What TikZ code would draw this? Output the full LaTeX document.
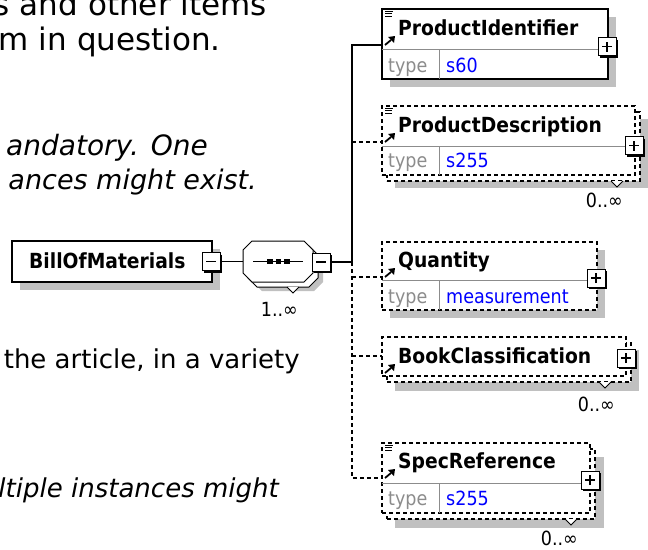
\documentclass[tikz,border=0pt]{standalone}
\usepackage{fontspec}
\setmainfont{DejaVu Sans}
\newfontfamily\xsfont{DejaVu Sans}[FakeStretch=0.9]
\definecolor{shadowgrey}{RGB}{192,192,192}
\definecolor{divgrey}{RGB}{140,140,140}
\definecolor{typeblue}{RGB}{0,0,255}
\tikzset{
  pagetext/.style={font=\fontsize{#1}{32}\selectfont, anchor=base east, inner sep=0},
  pageital/.style={font=\fontsize{#1}{32}\selectfont\itshape, anchor=base east, inner sep=0},
  shadowfill/.style={fill=shadowgrey, draw=none},
  elbox/.style={draw=black, line width=1.3pt, fill=white, inner sep=0, outer sep=0, anchor=north west},
  optbox/.style={elbox, dash pattern=on 4pt off 3pt},
  elname/.style={font=\xsfont\fontsize{20.8}{24}\selectfont\bfseries, anchor=base west, inner sep=0},
  typekey/.style={font=\xsfont\fontsize{19.5}{22}\selectfont, text=divgrey, anchor=base west, inner sep=0},
  typeval/.style={font=\xsfont\fontsize{19.5}{22}\selectfont, text=typeblue, anchor=base west, inner sep=0},
  occ/.style={font=\xsfont\fontsize{19.5}{22}\selectfont, anchor=base east, inner sep=0},
  divline/.style={draw=divgrey, line width=1pt},
  conn/.style={draw=black, line width=1.3pt},
  optconn/.style={conn, dash pattern=on 4pt off 3pt},
  pmbox/.style={draw=black, line width=1pt, fill=white, minimum size=18pt, inner sep=0, outer sep=0},
}
\newcommand\xsexp[4]{%
  \node[pmbox] (#1) at (#2,#3) {};
  \draw[line width=2.2pt] ([xshift=1.1pt,yshift=-2pt]#1.north east) -- ([xshift=1.1pt,yshift=-1.1pt]#1.south east) -- ([xshift=2pt,yshift=-1.1pt]#1.south west);
  \draw[line width=1.2pt] ([xshift=-5pt]#1.center) -- ([xshift=5pt]#1.center);
  \ifnum#4=1 \draw[line width=1.2pt] ([yshift=-5pt]#1.center) -- ([yshift=5pt]#1.center);\fi
}
\newcommand\xsdoc[2]{\draw[line width=1pt] (#1,#2) -- ++(8,0) (#1,#2+2.5) -- ++(7,0) (#1,#2+5) -- ++(7,0);}
\newcommand\xsref[2]{\draw[line width=1.8pt] (#1,#2) -- ++(6,-5); \fill (#1+10,#2-9) -- (#1+3,#2-8) -- (#1+9,#2-2) -- cycle;}
\newcommand\xsnotch[2]{\draw[line width=1pt, fill=white] (#1-6,#2) -- (#1,#2+6) -- (#1+6,#2);}
\begin{document}
\begin{tikzpicture}[x=1pt,y=-1pt]
\useasboundingbox (0,0) rectangle (648,549);
\fill[white] (0,0) rectangle (648,549);

% background page text
\node[pagetext=31] (t1) at (267,15) {s and other items};
\node[pagetext=31] (t2) at (221,50) {m in question.};
\node[pageital=28] (t3) at (208,155) {andatory. One};
\node[pageital=27] (t4) at (257,189) {ances might exist.};
\node[pagetext=26] (t5) at (300,368) {the article, in a variety};
\node[pageital=26] (t6) at (279,497) {ltiple instances might};

% BillOfMaterials
\fill[shadowfill] (20,249) rectangle (220,290);
\node[elbox, line width=1.1pt, minimum width=200pt, minimum height=41pt] (bom) at (12,241) {};
\node[elname] (bomname) at (29,268) {BillOfMaterials};

% sequence compositor
\fill[shadowfill] (262,250) -- (314,250) -- (323,259) -- (323,282) -- (314,291) -- (262,291) -- (253,282) -- (253,259) -- cycle;
\draw[line width=1pt, fill=white] (257,246) -- (309,246) -- (318,255) -- (318,278) -- (309,287) -- (257,287) -- (248,278) -- (248,255) -- cycle;
\xsnotch{293}{287}
\draw[line width=1pt, fill=white] (252,241) -- (304,241) -- (313,250) -- (313,273) -- (304,282) -- (252,282) -- (243,273) -- (243,250) -- cycle;
\coordinate (seqw) at (243,261.5);
\draw[line width=1.2pt] (253,261.5) -- (303,261.5);
\foreach \sx in {270,278.5,287} \fill (\sx-2.6,259) rectangle (\sx+2.6,264);
\node[occ] (seqocc) at (298,316) {1..∞};

% expanders
\xsexp{bomx}{211}{261.5}{0}
\xsexp{seqx}{321}{262}{0}
\draw[conn] (bomx.east) -- (seqw);
\coordinate (trunk) at (352,262);
\draw[conn] (seqx.east) -- (trunk);

% ProductIdentifier
\fill[shadowfill] (390,17) rectangle (616,87);
\node[elbox, minimum width=226pt, minimum height=70pt] (pi) at (382,9) {};
\draw[divline] (382,49) -- (608,49) (439,49) -- (439,79);
\node[elname] (piname) at (398,35) {ProductIdentifier};
\node[typekey] (pitk) at (388,72) {type};
\node[typeval] (pitv) at (446,72) {s60};
\xsdoc{385}{11}
\xsref{385}{45}
\xsexp{pix}{607}{46.5}{1}
\coordinate (piin) at (382,45);

% ProductDescription
\fill[shadowfill] (395,119) rectangle (648,188);
\node[optbox, minimum width=253pt, minimum height=69pt] (pdback) at (387,112) {};
\xsnotch{617}{181}
\node[optbox, minimum width=253pt, minimum height=69pt] (pd) at (382,106) {};
\draw[divline] (382,146) -- (635,146) (439,146) -- (439,175);
\node[elname] (pdname) at (398,132) {ProductDescription};
\node[typekey] (pdtk) at (388,167) {type};
\node[typeval] (pdtv) at (446,167) {s255};
\xsdoc{385}{108}
\xsref{385}{142}
\xsexp{pdx}{634}{145.5}{1}
\node[occ] (pdocc) at (623,207) {0..∞};
\coordinate (pdin) at (382,142);

% Quantity
\fill[shadowfill] (390,250) rectangle (605,318);
\node[optbox, minimum width=215pt, minimum height=68pt] (q) at (382,242) {};
\draw[divline] (382,280) -- (597,280) (439,280) -- (439,310);
\node[elname] (qname) at (398,267) {Quantity};
\node[typekey] (qtk) at (388,303) {type};
\node[typeval] (qtv) at (446,303) {measurement};
\xsref{385}{277}
\xsexp{qx}{596}{278}{1}
\coordinate (qin) at (382,277);

% BookClassification
\fill[shadowfill] (395,350) rectangle (639,391);
\node[optbox, minimum width=244pt, minimum height=39pt] (bcback) at (387,343) {};
\xsnotch{605}{382}
\node[optbox, minimum width=244pt, minimum height=39pt] (bc) at (382,337) {};
\node[elname] (bcname) at (398,363) {BookClassification};
\xsref{385}{373}
\xsexp{bcx}{626}{358}{1}
\node[occ] (bcocc) at (615,411) {0..∞};
\coordinate (bcin) at (382,356);

% SpecReference
\fill[shadowfill] (395,457) rectangle (604,528);
\node[optbox, minimum width=208pt, minimum height=70pt] (srback) at (387,449) {};
\xsnotch{571}{519}
\node[optbox, minimum width=208pt, minimum height=70pt] (sr) at (382,443) {};
\draw[divline] (382,483) -- (590,483) (439,483) -- (439,513);
\node[elname] (srname) at (398,468) {SpecReference};
\node[typekey] (srtk) at (388,505) {type};
\node[typeval] (srtv) at (446,505) {s255};
\xsdoc{385}{445}
\xsref{385}{478}
\xsexp{srx}{590}{480}{1}
\node[occ] (srocc) at (578,545) {0..∞};
\coordinate (srin) at (382,478);

% connectors
\draw[conn] (trunk) -- (trunk |- piin) -- (piin);
\draw[optconn] (trunk |- pdin) -- (pdin);
\draw[optconn] (trunk) -- (trunk |- srin) -- (srin);
\draw[optconn] (trunk |- qin) -- (qin);
\draw[optconn] (trunk |- bcin) -- (bcin);
\end{tikzpicture}
\end{document}
